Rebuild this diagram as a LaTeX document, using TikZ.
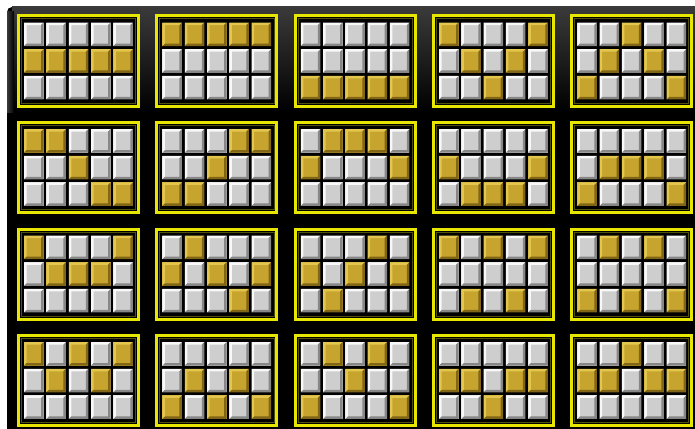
\documentclass[tikz,border=0pt]{standalone}
\usepackage{xcolor}
\usepackage{tikz}
\usetikzlibrary{calc}
\definecolor{frameyellow}{RGB}{230,230,0}
\definecolor{frameolive}{RGB}{80,80,15}
\definecolor{bggrey}{RGB}{58,58,58}
\definecolor{face0}{RGB}{206,206,206}
\definecolor{lite0}{RGB}{248,248,248}
\definecolor{dark0}{RGB}{135,135,135}
\definecolor{face1}{RGB}{198,164,46}
\definecolor{lite1}{RGB}{226,198,78}
\definecolor{dark1}{RGB}{128,102,22}
\tikzset{
  panelframe/.style={draw=frameyellow,line width=3pt,fill=black},
  panelinner/.style={draw=frameolive,line width=0.8pt},
}
% one bevelled reel cell: top-left x, top-left y, kind (0 white, 1 gold)
\newcommand{\slotcell}[3]{%
  \fill[face#3] (#1,#2) rectangle ++(19.5,23.5);
  \fill[lite#3] (#1,#2) -- ++(19.5,0) -- ++(-2.5,2.5) -- ++(-14.5,0)
    -- ++(0,18.5) -- ++(-2.5,2.5) -- cycle;
  \fill[dark#3] (#1+19.5,#2+23.5) -- ++(-19.5,0) -- ++(2.5,-2.5)
    -- ++(14.5,0) -- ++(0,-18.5) -- ++(2.5,-2.5) -- cycle;
}

\begin{document}
\begin{tikzpicture}[x=1pt,y=-1pt]
  \useasboundingbox (0,0) rectangle (695,428);
  \fill[white] (0,0) rectangle (695,428);
  \fill[black,rounded corners=5pt] (7,7) rectangle (705,440);
  \shade[top color=bggrey,bottom color=black] (12,7) rectangle (695,112);
  \shade[left color=bggrey,right color=black] (7,12) rectangle (14,112);

  % paylines, row by row, cells read left to right, top to bottom
  \foreach \pat [count=\k from 0] in {
    {0,0,0,0,0,1,1,1,1,1,0,0,0,0,0},
    {1,1,1,1,1,0,0,0,0,0,0,0,0,0,0},
    {0,0,0,0,0,0,0,0,0,0,1,1,1,1,1},
    {1,0,0,0,1,0,1,0,1,0,0,0,1,0,0},
    {0,0,1,0,0,0,1,0,1,0,1,0,0,0,1},
    {1,1,0,0,0,0,0,1,0,0,0,0,0,1,1},
    {0,0,0,1,1,0,0,1,0,0,1,1,0,0,0},
    {0,1,1,1,0,1,0,0,0,1,0,0,0,0,0},
    {0,0,0,0,0,1,0,0,0,1,0,1,1,1,0},
    {0,0,0,0,0,0,1,1,1,0,1,0,0,0,1},
    {1,0,0,0,1,0,1,1,1,0,0,0,0,0,0},
    {0,1,0,0,0,1,0,1,0,1,0,0,0,1,0},
    {0,0,0,1,0,1,0,1,0,1,0,1,0,0,0},
    {1,0,1,0,1,0,0,0,0,0,0,1,0,1,0},
    {0,1,0,1,0,0,0,0,0,0,1,0,1,0,1},
    {1,0,1,0,1,0,1,0,1,0,0,0,0,0,0},
    {0,0,0,0,0,0,1,0,1,0,1,0,1,0,1},
    {0,1,0,1,0,0,0,1,0,0,1,0,0,0,1},
    {0,0,0,0,0,1,1,0,1,1,0,0,1,0,0},
    {0,0,1,0,0,1,1,0,1,1,0,0,0,0,0}}{
    \pgfmathsetmacro\px{17+138.3*mod(\k,5)}
    \pgfmathsetmacro\py{14.5+106.5*int(\k/5)}
    \draw[panelframe] (\px+1.5,\py+1.5) rectangle ++(120,90);
    \draw[panelinner] (\px+4.4,\py+4.4) rectangle ++(114.2,84.2);
    \foreach \v [count=\i from 0] in \pat {
      \pgfmathsetmacro\cx{\px+7.15+22.3*mod(\i,5)}
      \pgfmathsetmacro\cy{\py+8.05+26.7*int(\i/5)}
      \slotcell{\cx}{\cy}{\v}
    }
  }
\end{tikzpicture}
\end{document}
